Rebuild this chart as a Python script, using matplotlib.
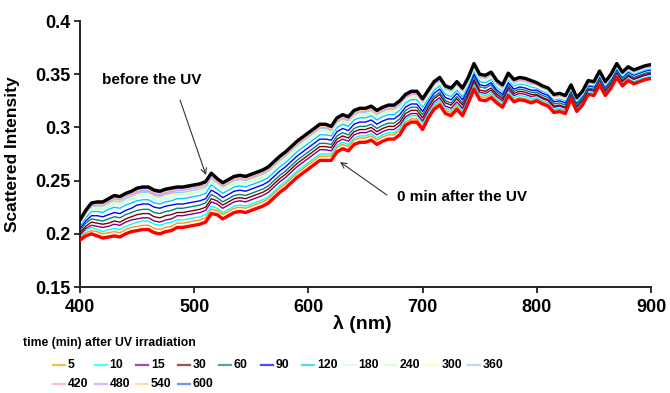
import matplotlib
matplotlib.use("Agg")
import matplotlib.pyplot as plt
from matplotlib.lines import Line2D
import numpy as np

plt.rcParams['font.family'] = ['Liberation Sans', 'DejaVu Sans']
plt.rcParams['font.weight'] = 'bold'

# wavelength grid (nm), 5 nm steps
wavelength = np.arange(400, 901, 5)

# scattered intensity, in units of 1e-3
before_uv = [213, 222, 229, 230, 230, 233, 236, 235, 238, 240,
             243, 244, 244, 241, 240, 242, 243, 244, 244, 245,
             246, 247, 249, 257, 252, 248, 251, 254, 255, 254,
             256, 258, 260, 263, 268, 273, 277, 282, 287, 291,
             295, 299, 303, 303, 301, 309, 312, 310, 316, 318,
             318, 320, 316, 319, 321, 321, 325, 331, 334, 334,
             327, 335, 343, 347, 339, 337, 343, 337, 347, 360,
             350, 349, 352, 344, 340, 351, 345, 347, 346, 344,
             342, 339, 337, 331, 332, 330, 340, 328, 334, 344,
             343, 353, 343, 350, 360, 352, 357, 354, 356, 358, 359]
after_0 = [194, 198, 200, 198, 196, 197, 198, 197, 200, 202,
           203, 204, 204, 201, 200, 202, 203, 206, 206, 207,
           208, 209, 211, 219, 218, 214, 217, 220, 221, 220,
           222, 224, 226, 229, 234, 239, 243, 248, 253, 257,
           261, 265, 269, 269, 269, 277, 280, 278, 284, 286,
           286, 288, 284, 287, 289, 289, 293, 302, 305, 305,
           298, 309, 317, 321, 313, 311, 317, 311, 323, 336,
           326, 325, 328, 323, 319, 330, 324, 326, 325, 323,
           325, 322, 320, 314, 315, 313, 327, 315, 321, 331,
           330, 340, 330, 337, 347, 339, 344, 341, 343, 345, 346]
t5 = [196, 201, 203, 202, 200, 201, 202, 201, 204, 206,
      207, 208, 208, 205, 204, 206, 207, 210, 210, 211,
      212, 213, 215, 223, 222, 218, 221, 224, 225, 224,
      226, 228, 230, 233, 238, 243, 247, 252, 257, 261,
      265, 269, 273, 273, 273, 281, 284, 282, 288, 290,
      290, 292, 288, 291, 293, 293, 297, 305, 308, 308,
      301, 312, 320, 324, 316, 314, 320, 314, 326, 339,
      329, 328, 331, 325, 321, 332, 326, 328, 327, 325,
      327, 324, 322, 316, 317, 315, 328, 316, 322, 332,
      331, 341, 331, 338, 348, 340, 345, 342, 344, 346, 347]
t10 = [198, 203, 206, 204, 202, 204, 205, 204, 207, 209,
       211, 212, 212, 209, 208, 210, 211, 213, 213, 214,
       215, 216, 218, 226, 224, 220, 223, 226, 227, 226,
       228, 230, 232, 235, 240, 245, 249, 254, 259, 263,
       267, 271, 275, 275, 275, 283, 286, 284, 290, 292,
       292, 294, 290, 293, 295, 295, 299, 308, 311, 311,
       304, 314, 322, 326, 318, 316, 322, 316, 328, 341,
       331, 330, 333, 327, 323, 334, 328, 330, 329, 327,
       328, 325, 323, 317, 318, 316, 329, 317, 323, 333,
       332, 342, 332, 339, 349, 341, 346, 343, 345, 347, 348]
t15 = [199, 205, 208, 207, 206, 207, 209, 208, 211, 213,
       214, 215, 215, 212, 211, 213, 214, 217, 217, 218,
       219, 220, 222, 230, 228, 224, 227, 230, 231, 230,
       232, 234, 236, 239, 244, 249, 253, 258, 263, 267,
       271, 275, 279, 279, 278, 286, 289, 287, 293, 295,
       295, 297, 293, 296, 298, 298, 302, 310, 313, 313,
       306, 316, 324, 328, 320, 318, 324, 318, 330, 343,
       333, 332, 335, 329, 325, 336, 330, 332, 331, 329,
       330, 327, 325, 319, 320, 318, 331, 319, 325, 335,
       334, 344, 334, 341, 351, 343, 348, 345, 347, 349, 350]
t30 = [201, 207, 211, 210, 209, 210, 212, 211, 214, 216,
       218, 219, 219, 216, 215, 217, 218, 220, 220, 221,
       222, 223, 225, 233, 231, 227, 230, 233, 234, 233,
       235, 237, 239, 242, 247, 252, 256, 261, 266, 270,
       274, 278, 282, 282, 281, 289, 292, 290, 296, 298,
       298, 300, 296, 299, 301, 301, 305, 313, 316, 316,
       309, 319, 327, 331, 323, 321, 327, 321, 332, 345,
       335, 334, 337, 331, 327, 338, 332, 334, 333, 331,
       331, 328, 326, 320, 321, 319, 332, 320, 326, 336,
       335, 345, 335, 342, 352, 344, 349, 346, 348, 350, 351]
t60 = [203, 210, 214, 213, 212, 214, 216, 215, 218, 220,
       222, 223, 223, 220, 219, 221, 222, 224, 224, 225,
       226, 227, 229, 237, 234, 230, 233, 236, 237, 236,
       238, 240, 242, 245, 250, 255, 259, 264, 269, 273,
       277, 281, 285, 285, 284, 292, 295, 293, 299, 301,
       301, 303, 299, 302, 304, 304, 308, 316, 319, 319,
       312, 321, 329, 333, 325, 323, 329, 323, 335, 348,
       338, 337, 340, 333, 329, 340, 334, 336, 335, 333,
       333, 330, 328, 322, 323, 321, 333, 321, 327, 337,
       336, 346, 336, 343, 353, 345, 350, 347, 349, 351, 352]
t90 = [205, 212, 217, 217, 216, 218, 220, 219, 222, 224,
       227, 228, 228, 225, 224, 226, 227, 228, 228, 229,
       230, 231, 233, 241, 238, 234, 237, 240, 241, 240,
       242, 244, 246, 249, 254, 259, 263, 268, 273, 277,
       281, 285, 289, 289, 288, 296, 299, 297, 303, 305,
       305, 307, 303, 306, 308, 308, 312, 319, 322, 322,
       315, 324, 332, 336, 328, 326, 332, 326, 337, 350,
       340, 339, 342, 335, 331, 342, 336, 338, 337, 335,
       335, 332, 330, 324, 325, 323, 335, 323, 329, 339,
       338, 348, 338, 345, 355, 347, 352, 349, 351, 353, 354]
t120 = [207, 215, 221, 221, 220, 223, 225, 224, 227, 229,
        231, 232, 232, 229, 228, 230, 231, 233, 233, 234,
        235, 236, 238, 246, 242, 238, 241, 244, 245, 244,
        246, 248, 250, 253, 258, 263, 267, 272, 277, 281,
        285, 289, 293, 293, 292, 300, 303, 301, 307, 309,
        309, 311, 307, 310, 312, 312, 316, 323, 326, 326,
        319, 327, 335, 339, 331, 329, 335, 329, 340, 353,
        343, 342, 345, 338, 334, 345, 339, 341, 340, 338,
        337, 334, 332, 326, 327, 325, 336, 324, 330, 340,
        339, 349, 339, 346, 356, 348, 353, 350, 352, 354, 355]
t180 = [209, 217, 223, 223, 223, 225, 228, 227, 230, 232,
        234, 235, 235, 232, 231, 233, 234, 236, 236, 237,
        238, 239, 241, 249, 245, 241, 244, 247, 248, 247,
        249, 251, 253, 256, 261, 266, 270, 275, 280, 284,
        288, 292, 296, 296, 294, 302, 305, 303, 309, 311,
        311, 313, 309, 312, 314, 314, 318, 325, 328, 328,
        321, 329, 337, 341, 333, 331, 337, 331, 342, 355,
        345, 344, 347, 339, 335, 346, 340, 342, 341, 339,
        338, 335, 333, 327, 328, 326, 337, 325, 331, 341,
        340, 350, 340, 347, 357, 349, 354, 351, 353, 355, 356]
t240 = [210, 218, 224, 224, 224, 227, 229, 228, 231, 233,
        236, 237, 237, 234, 233, 235, 236, 237, 237, 238,
        239, 240, 242, 250, 246, 242, 245, 248, 249, 248,
        250, 252, 254, 257, 262, 267, 271, 276, 281, 285,
        289, 293, 297, 297, 295, 303, 306, 304, 310, 312,
        312, 314, 310, 313, 315, 315, 319, 326, 329, 329,
        322, 330, 338, 342, 334, 332, 338, 332, 343, 356,
        346, 345, 348, 340, 336, 347, 341, 343, 342, 340,
        339, 336, 334, 328, 329, 327, 338, 326, 332, 342,
        341, 351, 341, 348, 358, 350, 355, 352, 354, 356, 357]
t300 = [210, 218, 225, 225, 225, 228, 230, 229, 232, 234,
        237, 238, 238, 235, 234, 236, 237, 238, 238, 239,
        240, 241, 243, 251, 247, 243, 246, 249, 250, 249,
        251, 253, 255, 258, 263, 268, 272, 277, 282, 286,
        290, 294, 298, 298, 296, 304, 307, 305, 311, 313,
        313, 315, 311, 314, 316, 316, 320, 327, 330, 330,
        323, 331, 339, 343, 335, 333, 339, 333, 343, 356,
        346, 345, 348, 341, 337, 348, 342, 344, 343, 341,
        339, 336, 334, 328, 329, 327, 338, 326, 332, 342,
        341, 351, 341, 348, 358, 350, 355, 352, 354, 356, 357]
t360 = [211, 219, 226, 226, 226, 229, 231, 230, 233, 235,
        238, 239, 239, 236, 235, 237, 238, 239, 239, 240,
        241, 242, 244, 252, 248, 244, 247, 250, 251, 250,
        252, 254, 256, 259, 264, 269, 273, 278, 283, 287,
        291, 295, 299, 299, 297, 305, 308, 306, 312, 314,
        314, 316, 312, 315, 317, 317, 321, 328, 331, 331,
        324, 332, 340, 344, 336, 334, 340, 334, 344, 357,
        347, 346, 349, 341, 337, 348, 342, 344, 343, 341,
        340, 337, 335, 329, 330, 328, 338, 326, 332, 342,
        341, 351, 341, 348, 358, 350, 355, 352, 354, 356, 357]
t420 = [211, 220, 226, 227, 227, 230, 233, 232, 235, 237,
        239, 240, 240, 237, 236, 238, 239, 241, 241, 242,
        243, 244, 246, 254, 249, 245, 248, 251, 252, 251,
        253, 255, 257, 260, 265, 270, 274, 279, 284, 288,
        292, 296, 300, 300, 298, 306, 309, 307, 313, 315,
        315, 317, 313, 316, 318, 318, 322, 328, 331, 331,
        324, 333, 341, 345, 337, 335, 341, 335, 345, 358,
        348, 347, 350, 342, 338, 349, 343, 345, 344, 342,
        340, 337, 335, 329, 330, 328, 339, 327, 333, 343,
        342, 352, 342, 349, 359, 351, 356, 353, 355, 357, 358]
t480 = [212, 220, 227, 228, 228, 230, 233, 232, 235, 237,
        240, 241, 241, 238, 237, 239, 240, 241, 241, 242,
        243, 244, 246, 254, 250, 246, 249, 252, 253, 252,
        254, 256, 258, 261, 266, 271, 275, 280, 285, 289,
        293, 297, 301, 301, 299, 307, 310, 308, 314, 316,
        316, 318, 314, 317, 319, 319, 323, 329, 332, 332,
        325, 333, 341, 345, 337, 335, 341, 335, 345, 358,
        348, 347, 350, 343, 339, 350, 344, 346, 345, 343,
        341, 338, 336, 330, 331, 329, 339, 327, 333, 343,
        342, 352, 342, 349, 359, 351, 356, 353, 355, 357, 358]
t540 = [212, 221, 228, 228, 228, 231, 234, 233, 236, 238,
        241, 242, 242, 239, 238, 240, 241, 242, 242, 243,
        244, 245, 247, 255, 250, 246, 249, 252, 253, 252,
        254, 256, 258, 261, 266, 271, 275, 280, 285, 289,
        293, 297, 301, 301, 299, 307, 310, 308, 314, 316,
        316, 318, 314, 317, 319, 319, 323, 330, 333, 333,
        326, 334, 342, 346, 338, 336, 342, 336, 346, 359,
        349, 348, 351, 343, 339, 350, 344, 346, 345, 343,
        341, 338, 336, 330, 331, 329, 339, 327, 333, 343,
        342, 352, 342, 349, 359, 351, 356, 353, 355, 357, 358]
t600 = [213, 222, 228, 229, 229, 232, 235, 234, 237, 239,
        242, 243, 243, 240, 239, 241, 242, 243, 243, 244,
        245, 246, 248, 256, 251, 247, 250, 253, 254, 253,
        255, 257, 259, 262, 267, 272, 276, 281, 286, 290,
        294, 298, 302, 302, 300, 308, 311, 309, 315, 317,
        317, 319, 315, 318, 320, 320, 324, 330, 333, 333,
        326, 334, 342, 346, 338, 336, 342, 336, 347, 360,
        350, 349, 352, 344, 340, 351, 345, 347, 346, 344,
        342, 339, 337, 331, 332, 330, 340, 328, 334, 344,
        343, 353, 343, 350, 360, 352, 357, 354, 356, 358, 359]

times = ['5', '10', '15', '30', '60', '90', '120', '180', '240', '300',
         '360', '420', '480', '540', '600']
colors = ['#ff9900', '#00ffff', '#800080', '#800000', '#008080', '#0000ff',
          '#00ccff', '#ccffff', '#ccffcc', '#ffff99', '#99ccff', '#ff99cc',
          '#cc99ff', '#ffcc99', '#3366ff']
curves = [t5, t10, t15, t30, t60, t90, t120, t180, t240, t300,
          t360, t420, t480, t540, t600]

fig = plt.figure(figsize=(6.7, 3.93), dpi=100)
W, H = 670.0, 393.0
ax = fig.add_axes([80 / W, 1 - 287 / H, 571 / W, 266 / H])

for vals, c in zip(curves, colors):
    ax.plot(wavelength, np.array(vals) / 1000, color=c, lw=1.0, zorder=2)
ax.plot(wavelength, np.array(after_0) / 1000, color='#ff0000', lw=2.4, zorder=3)
ax.plot(wavelength, np.array(before_uv) / 1000, color='black', lw=2.4, zorder=4)

ax.set_xlim(400, 900)
ax.set_ylim(0.15, 0.4)
ax.set_xticks(np.arange(400, 901, 100))
ax.set_yticks([0.15, 0.2, 0.25, 0.3, 0.35, 0.4])
ax.set_yticklabels(['0.15', '0.2', '0.25', '0.3', '0.35', '0.4'])
for side in ['top', 'right']:
    ax.spines[side].set_visible(False)
for side in ['left', 'bottom']:
    ax.spines[side].set_linewidth(1.4)
    ax.spines[side].set_color('#222222')
ax.tick_params(axis='both', direction='out', length=4.5, width=1.3,
               color='#222222', labelsize=13)
ax.tick_params(axis='y', pad=2)
ax.tick_params(axis='x', pad=4)

ax.set_ylabel('Scattered Intensity', fontsize=12.5, fontweight='bold')
ax.yaxis.set_label_coords(-0.105, 0.5)
ax.set_xlabel('λ (nm)', fontsize=14, fontweight='bold')
ax.xaxis.set_label_coords(0.494, -0.105)

arrow = dict(arrowstyle='->', lw=0.8, color='#333333', shrinkA=0, shrinkB=0)
ax.text(419.3, 0.3445, 'before the UV', fontsize=11, fontweight='bold',
        va='center', ha='left')
ax.annotate('', xy=(510.3, 0.2552), xytext=(487.6, 0.3257), arrowprops=arrow)
ax.text(677.6, 0.2346, '0 min after the UV', fontsize=11, fontweight='bold',
        va='center', ha='left')
ax.annotate('', xy=(627.7, 0.2675), xytext=(668.8, 0.2364), arrowprops=arrow)

# legend below the axes: 11 columns, fixed spacing
fig.text(23 / W, 1 - 343 / H, 'time (min) after UV irradiation',
         fontsize=8.8, fontweight='bold', va='center', ha='left')
for i, (t, c) in enumerate(zip(times, colors)):
    row, col = divmod(i, 11)
    x0 = 53 + 41.5 * col
    y0 = 1 - (365 + 19 * row) / H
    fig.add_artist(Line2D([x0 / W, (x0 + 12) / W], [y0, y0],
                          transform=fig.transFigure, color=c, lw=1.6, alpha=0.7))
    fig.text((x0 + 15) / W, y0, t, fontsize=8.8, fontweight='bold',
             va='center', ha='left')

fig.savefig('out.png', dpi=100)
